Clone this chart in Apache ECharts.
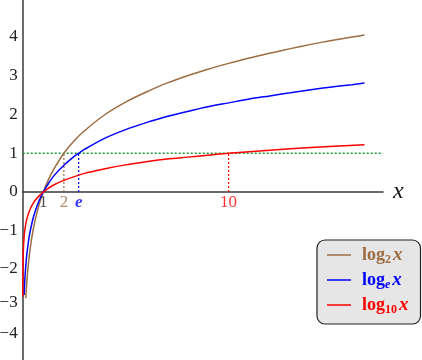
<!DOCTYPE html>
<html><head><meta charset="utf-8">
<script src="https://cdn.jsdelivr.net/npm/echarts@6/dist/echarts.min.js"></script>
<style>html,body{margin:0;padding:0;background:#fff}#c{width:422px;height:360px}</style>
</head><body><div id="c"></div>
<script>
// ---- data ----
var log2X  = [0.15,0.2,0.3,0.4,0.5,0.6,0.8,1,1.25,1.5,2,2.5,3,4,5,6,7,8,9,10,11,12,13,14,15,16,16.6];
var log2Y  = [-2.74,-2.32,-1.74,-1.32,-1,-0.74,-0.32,0,0.32,0.58,1,1.32,1.58,2,2.32,2.58,2.81,3,3.17,3.32,3.46,3.58,3.7,3.81,3.91,4,4.05];
var lnX    = [0.07,0.1,0.15,0.2,0.3,0.4,0.5,0.6,0.8,1,1.25,1.5,2,2.5,2.72,3,4,5,6,7,8,9,10,11,12,13,14,15,16,16.6];
var lnY    = [-2.66,-2.3,-1.9,-1.61,-1.2,-0.92,-0.69,-0.51,-0.22,0,0.22,0.41,0.69,0.92,1,1.1,1.39,1.61,1.79,1.95,2.08,2.2,2.3,2.4,2.48,2.56,2.64,2.71,2.77,2.81];
var log10X = [0.002,0.005,0.01,0.02,0.04,0.07,0.1,0.15,0.2,0.3,0.4,0.5,0.6,0.8,1,1.5,2,3,4,5,6,7,8,9,10,12,14,16.6];
var log10Y = [-2.7,-2.3,-2,-1.7,-1.4,-1.15,-1,-0.82,-0.7,-0.52,-0.4,-0.3,-0.22,-0.1,0,0.18,0.3,0.48,0.6,0.7,0.78,0.85,0.9,0.95,1,1.08,1.15,1.22];
var markX      = [1, 2, 2.718, 10];
var markLabels = ['1', '2', 'e', '10'];
var guideY     = 1;
var seriesNames = ['log2', 'loge', 'log10'];
var subs        = ['2', 'e', '10'];
var yTicks = [-4,-3,-2,-1,0,1,2,3,4];

// ---- styles ----
var BROWN = '#9c6c42', BLUE = '#0000ff', RED = '#ff0000', GREEN = '#1a9a36';
var colors = [BROWN, BLUE, RED];
var markColors = ['#222', BROWN, BLUE, RED];
var SERIF = '"Liberation Serif", "DejaVu Serif", serif';
// vertical nudges of some tick labels as seen in the reference (pixels, upward)
var labelLift = {'-2': 2, '-3': 12, '-4': 26};

function pairs(xs, ys){ return xs.map(function(x,i){ return [x, ys[i]]; }); }

var chart = echarts.init(document.getElementById('c'), null, {renderer:'canvas'});
var series = [
  {name: seriesNames[0], type:'line', data: pairs(log2X, log2Y), smooth: 0.3, symbol:'none', lineStyle:{color:BROWN, width:1.5}, itemStyle:{color:BROWN}, z:5},
  {name: seriesNames[1], type:'line', data: pairs(lnX, lnY), smooth: 0.3, symbol:'none', lineStyle:{color:BLUE, width:1.5}, itemStyle:{color:BLUE}, z:5},
  {name: seriesNames[2], type:'line', data: pairs(log10X, log10Y), smooth: 0.3, symbol:'none', lineStyle:{color:RED, width:1.5}, itemStyle:{color:RED}, z:5},
  {type:'line', data:[[0,guideY],[17.5,guideY]], symbol:'none', lineStyle:{color:GREEN, width:1.5, type:[2,2]}, z:3, silent:true}
];
markX.slice(1).forEach(function(x, i){
  series.push({type:'line', data:[[x,0],[x,guideY]], symbol:'none', lineStyle:{color:markColors[i+1], width:1.2, type:[2,2]}, z:3, silent:true});
});
series.push({type:'scatter', symbolSize:0, z:6, silent:true,
  data: markX.map(function(x,i){
    return {value:[x,0], label:{formatter: markLabels[i], color: markColors[i], fontStyle: markLabels[i]==='e' ? 'italic':'normal', fontWeight: markLabels[i]==='e' ? 'bold':'normal'}};
  }),
  label:{show:true, position:'bottom', distance:2, fontFamily:SERIF, fontSize:17}
});

var rich = {};
colors.forEach(function(c, i){
  rich['b'+i] = {fontFamily:SERIF, fontSize:18, fontWeight:'bold', color:c, lineHeight:20, padding:[0,0,0,6]};
  rich['s'+i] = {fontFamily:SERIF, fontSize:12, fontWeight:'bold', color:c, lineHeight:12, padding:[10,2,0,0], fontStyle: subs[i]==='e'?'italic':'normal'};
  rich['i'+i] = {fontFamily:SERIF, fontSize:19, fontWeight:'bold', fontStyle:'italic', color:c, lineHeight:20};
});
var yRich = {};
Object.keys(labelLift).forEach(function(k, j){
  yRich['u'+j] = {fontFamily:SERIF, fontSize:17, color:'#222', padding:[0,0,labelLift[k],0]};
});

chart.setOption({
  animation:false,
  grid:{left:22.7, right:39, top:-1.75, bottom:-25.75, outerBoundsMode:'none', containLabel:false},
  xAxis:{type:'value', min:0, max:17.5, interval:1,
    axisLine:{show:true, lineStyle:{color:'#3a3a3a', width:1.5}},
    axisTick:{show:false}, axisLabel:{show:false}, splitLine:{show:false},
    name:'x', nameLocation:'end', nameGap:10,
    nameTextStyle:{fontFamily:SERIF, fontSize:24, fontStyle:'italic', color:'#111', padding:[0,0,6,0], verticalAlign:'middle'}
  },
  yAxis:{type:'value', min:-5, max:5, interval:1,
    axisLine:{show:true, lineStyle:{color:'#3a3a3a', width:1.5}},
    axisTick:{show:false}, splitLine:{show:false},
    axisLabel:{margin:5, fontFamily:SERIF, fontSize:17, color:'#222', rich:yRich,
      formatter:function(v){
        if (yTicks.indexOf(v) < 0) return '';
        var s = v < 0 ? '\u2212' + Math.abs(v) : String(v);
        var keys = Object.keys(labelLift), j = keys.indexOf(String(v));
        return j >= 0 ? '{u'+j+'|'+s+'}' : s;
      }}
  },
  legend:{orient:'vertical', left:317, top:240, data: seriesNames.map(function(n){ return {name:n}; }),
    icon:'rect', itemWidth:24, itemHeight:1.5, itemGap:3, padding:[4,12,8,10],
    backgroundColor:'#e6e6e6', borderColor:'#222', borderWidth:1.2, borderRadius:8,
    formatter:function(n){ var i = seriesNames.indexOf(n); return '{b'+i+'|log}{s'+i+'|'+subs[i]+'}{i'+i+'|x}'; },
    textStyle:{rich:rich}
  },
  series: series
});
</script></body></html>
